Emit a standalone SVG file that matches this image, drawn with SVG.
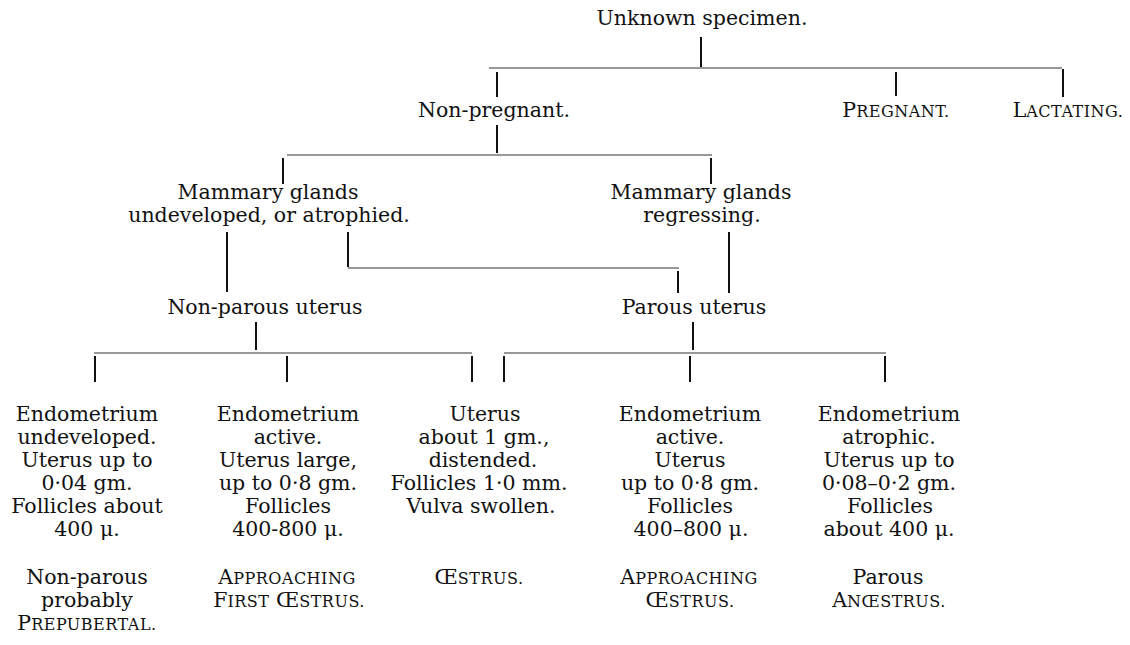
<svg xmlns="http://www.w3.org/2000/svg" width="1130" height="645" viewBox="0 0 1130 645">
<style>
text{font-family:"DejaVu Serif","Liberation Serif",serif;font-size:20.5px;fill:#111;text-anchor:middle}
.s{font-size:16px;letter-spacing:0.5px}
.v{stroke:#111;stroke-width:2;fill:none}
.h{stroke:#333;stroke-width:1.2;fill:none}
</style>
<rect width="1130" height="645" fill="#fff"/>
<g id="connectors">
<path class="v" d="M701 37V67M497 72V97M896 72V96M1063 69V97M497 125V153M283 158V184M711 158V184M227 232V292M348 232V267M678 271V293M729 232V293M256 322V350M95 356V382M287 356V382M472 356V382M693 322V350M504 356V382M690 356V382M885 356V382"/>
<path class="h" d="M489 68H1062M287 155H712M348 268H679M94 353H472M504 353H886"/>
</g>
<g id="n-unknown"><text x="702" y="25">Unknown specimen.</text></g>
<g id="n-nonpregnant"><text x="494" y="117">Non-pregnant.</text></g>
<g id="n-pregnant"><text x="896" y="117">P<tspan class="s">REGNANT.</tspan></text></g>
<g id="n-lactating"><text x="1068" y="117">L<tspan class="s">ACTATING.</tspan></text></g>
<g id="n-mammary-undeveloped"><text x="268" y="199">Mammary glands</text><text x="269" y="222">undeveloped, or atrophied.</text></g>
<g id="n-mammary-regressing"><text x="701" y="199">Mammary glands</text><text x="702" y="222">regressing.</text></g>
<g id="n-nonparous"><text x="265" y="314">Non-parous uterus</text></g>
<g id="n-parous"><text x="694" y="314">Parous uterus</text></g>
<g id="n-prepubertal">
<text x="87" y="421">Endometrium</text><text x="87" y="444">undeveloped.</text><text x="87" y="467">Uterus up to</text><text x="87" y="490">0·04 gm.</text><text x="87" y="513">Follicles about</text><text x="87" y="536">400 μ.</text>
<text x="87" y="584">Non-parous</text><text x="87" y="607">probably</text><text x="87" y="630">P<tspan class="s">REPUBERTAL.</tspan></text>
</g>
<g id="n-first-oestrus">
<text x="288" y="421">Endometrium</text><text x="288" y="444">active.</text><text x="288" y="467">Uterus large,</text><text x="288" y="490">up to 0·8 gm.</text><text x="288" y="513">Follicles</text><text x="288" y="536">400-800 μ.</text>
<text x="287" y="584">A<tspan class="s">PPROACHING</tspan></text><text x="289" y="607">F<tspan class="s">IRST</tspan> Œ<tspan class="s">STRUS.</tspan></text>
</g>
<g id="n-oestrus">
<text x="485" y="421">Uterus</text><text x="484" y="444">about 1 gm.,</text><text x="483" y="467">distended.</text><text x="479" y="490">Follicles 1·0 mm.</text><text x="481" y="513">Vulva swollen.</text>
<text x="479" y="584">Œ<tspan class="s">STRUS.</tspan></text>
</g>
<g id="n-approaching-oestrus">
<text x="690" y="421">Endometrium</text><text x="690" y="444">active.</text><text x="690" y="467">Uterus</text><text x="690" y="490">up to 0·8 gm.</text><text x="690" y="513">Follicles</text><text x="691" y="536">400–800 μ.</text>
<text x="689" y="584">A<tspan class="s">PPROACHING</tspan></text><text x="690" y="607">Œ<tspan class="s">STRUS.</tspan></text>
</g>
<g id="n-anoestrus">
<text x="889" y="421">Endometrium</text><text x="889" y="444">atrophic.</text><text x="889" y="467">Uterus up to</text><text x="889" y="490">0·08–0·2 gm.</text><text x="890" y="513">Follicles</text><text x="889" y="536">about 400 μ.</text>
<text x="888" y="584">Parous</text><text x="889" y="607">A<tspan class="s">NŒSTRUS.</tspan></text>
</g>
</svg>
